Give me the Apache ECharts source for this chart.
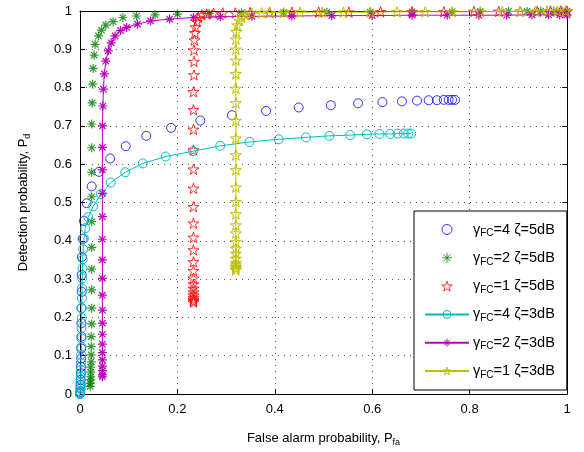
<!DOCTYPE html>
<html><head><meta charset="utf-8">
<script src="https://cdn.jsdelivr.net/npm/echarts@6/dist/echarts.min.js"></script>
<style>html,body{margin:0;padding:0;background:#fff}#c{width:584px;height:452px}</style>
</head><body><div id="c"></div>
<script>
// ---- data ----
const xTicks = [0, 0.2, 0.4, 0.6, 0.8, 1];
const yTicks = [0, 0.1, 0.2, 0.3, 0.4, 0.5, 0.6, 0.7, 0.8, 0.9, 1];
const seriesNames = ['γFC=4 ζ=5dB','γFC=2 ζ=5dB','γFC=1 ζ=5dB','γFC=4 ζ=3dB','γFC=2 ζ=3dB','γFC=1 ζ=3dB'];

const g4z5 = [[0,0],[0.0005,0.005],[0.001,0.014],[0.0012,0.024],[0.0015,0.037],[0.002,0.054],[0.002,0.071],[0.0025,0.093],[0.0025,0.119],[0.003,0.150],[0.003,0.185],[0.003,0.224],[0.0035,0.267],[0.0035,0.311],[0.004,0.358],[0.0055,0.405],[0.008,0.452],[0.0137,0.498],[0.024,0.542],[0.039,0.580],[0.062,0.615],[0.094,0.647],[0.136,0.674],[0.187,0.695],[0.247,0.714],[0.312,0.728],[0.382,0.739],[0.449,0.748],[0.515,0.754],[0.571,0.759],[0.621,0.762],[0.661,0.764],[0.692,0.766],[0.716,0.767],[0.733,0.767],[0.747,0.768],[0.757,0.768],[0.764,0.768],[0.770,0.768]];

const g2z5 = [[0.021,0.020],[0.021,0.028],[0.022,0.037],[0.022,0.045],[0.022,0.057],[0.022,0.070],[0.023,0.084],[0.023,0.102],[0.023,0.124],[0.023,0.150],[0.024,0.183],[0.024,0.224],[0.024,0.272],[0.024,0.326],[0.024,0.383],[0.024,0.450],[0.024,0.515],[0.024,0.579],[0.024,0.643],[0.024,0.705],[0.025,0.760],[0.026,0.809],[0.027,0.850],[0.029,0.885],[0.031,0.913],[0.038,0.935],[0.044,0.950],[0.053,0.963],[0.068,0.972],[0.088,0.983],[0.116,0.987],[0.154,0.990],[0.200,0.992],[0.265,0.994],[0.332,0.995],[0.418,0.996],[0.507,0.997],[0.596,0.997],[0.682,0.998],[0.764,0.998],[0.822,0.999],[0.880,0.999],[0.918,0.999],[0.946,1],[0.973,1],[0.990,1],[1,1]];

const g1z5 = [[0.233,0.240],[0.233,0.243],[0.233,0.247],[0.233,0.252],[0.233,0.258],[0.233,0.266],[0.233,0.276],[0.233,0.287],[0.233,0.302],[0.233,0.322],[0.233,0.345],[0.233,0.376],[0.233,0.409],[0.233,0.446],[0.233,0.489],[0.233,0.537],[0.233,0.587],[0.233,0.637],[0.233,0.691],[0.233,0.742],[0.233,0.789],[0.234,0.833],[0.234,0.868],[0.234,0.898],[0.235,0.924],[0.236,0.943],[0.237,0.958],[0.240,0.972],[0.243,0.983],[0.250,0.990],[0.260,0.992],[0.274,0.994],[0.293,0.995],[0.319,0.995],[0.349,0.996],[0.389,0.996],[0.435,0.997],[0.490,0.997],[0.552,0.997],[0.617,0.998],[0.682,0.998],[0.747,0.998],[0.809,0.999],[0.860,0.999],[0.904,0.999],[0.939,0.999],[0.966,1],[0.987,1],[1,1]];

const g4z3 = [[0,0],[0,0.003],[0.0005,0.007],[0.001,0.018],[0.001,0.030],[0.0015,0.045],[0.002,0.063],[0.002,0.082],[0.0025,0.102],[0.003,0.123],[0.003,0.145],[0.003,0.172],[0.0035,0.198],[0.0035,0.224],[0.004,0.250],[0.004,0.276],[0.0045,0.302],[0.005,0.328],[0.0055,0.352],[0.0065,0.378],[0.008,0.406],[0.011,0.433],[0.017,0.462],[0.027,0.490],[0.043,0.522],[0.063,0.552],[0.093,0.579],[0.129,0.602],[0.176,0.620],[0.232,0.634],[0.288,0.648],[0.348,0.658],[0.408,0.665],[0.464,0.670],[0.512,0.674],[0.555,0.676],[0.589,0.678],[0.615,0.679],[0.637,0.679],[0.652,0.680],[0.665,0.680],[0.674,0.680],[0.680,0.680]];

const g2z3 = [[0.046,0.045],[0.046,0.050],[0.046,0.061],[0.046,0.073],[0.046,0.089],[0.046,0.108],[0.046,0.130],[0.046,0.156],[0.046,0.185],[0.046,0.219],[0.046,0.258],[0.046,0.302],[0.046,0.350],[0.046,0.404],[0.046,0.463],[0.046,0.524],[0.046,0.585],[0.046,0.644],[0.046,0.700],[0.047,0.752],[0.048,0.796],[0.050,0.836],[0.053,0.869],[0.058,0.896],[0.064,0.917],[0.072,0.935],[0.083,0.949],[0.096,0.957],[0.118,0.966],[0.145,0.974],[0.184,0.979],[0.233,0.983],[0.288,0.985],[0.353,0.986],[0.435,0.987],[0.517,0.988],[0.600,0.988],[0.682,0.989],[0.754,0.989],[0.819,0.989],[0.876,0.989],[0.928,0.990],[0.962,0.990],[0.985,0.990],[1,0.990]];

const g1z3 = [[0.320,0.324],[0.320,0.328],[0.320,0.332],[0.320,0.337],[0.320,0.343],[0.320,0.354],[0.320,0.367],[0.320,0.380],[0.320,0.398],[0.320,0.420],[0.320,0.441],[0.320,0.470],[0.320,0.502],[0.320,0.540],[0.320,0.585],[0.320,0.624],[0.320,0.668],[0.320,0.714],[0.320,0.760],[0.320,0.798],[0.320,0.836],[0.320,0.871],[0.320,0.900],[0.320,0.926],[0.321,0.946],[0.323,0.963],[0.327,0.975],[0.332,0.983],[0.339,0.990],[0.353,0.994],[0.373,0.995],[0.390,0.996],[0.418,0.996],[0.452,0.997],[0.497,0.997],[0.541,0.997],[0.596,0.997],[0.651,0.998],[0.709,0.998],[0.764,0.998],[0.822,0.998],[0.867,0.999],[0.904,0.999],[0.935,0.999],[0.959,1],[0.980,1],[0.997,1]];

// ---- style ----
const FONT = '"Liberation Sans", Arial, Helvetica, sans-serif';
const STAR = 'path://M0,-10L2.245,-3.09L9.511,-3.09L3.633,1.18L5.878,8.09L0,3.82L-5.878,8.09L-3.633,1.18L-9.511,-3.09L-2.245,-3.09Z';
const AST = 'path://M0,-10L0,10M-10,0L10,0M-7.07,-7.07L7.07,7.07M-7.07,7.07L7.07,-7.07';
const colors = ['#0000ff','#008000','#ff0000','#00bfbf','#bf00bf','#bfbf00'];
const datasets = [g4z5, g2z5, g1z5, g4z3, g2z3, g1z3];
const kinds = ['scatter','scatter','scatter','line','line','line'];
const symbols = ['circle', AST, STAR, 'circle', AST, STAR];
const sizes = [9, 9, 11, 9, 9, 11];
const HOLLOW = 'rgba(0,0,0,0)';

const series = datasets.map((d, i) => {
  const s = {
    name: seriesNames[i],
    type: kinds[i],
    data: d,
    symbol: symbols[i],
    symbolSize: sizes[i],
    symbolKeepAspect: true,
    clip: false,
    itemStyle: {color: HOLLOW, borderColor: colors[i], borderWidth: symbols[i] === AST ? 1.2 : 1},
    emphasis: {disabled: true},
    animation: false
  };
  if (kinds[i] === 'line') {
    s.showSymbol = true;
    s.showAllSymbol = true;
    s.lineStyle = {color: colors[i], width: 1};
  }
  return s;
});

const tickLabel = {color: '#000', fontSize: 13, fontFamily: FONT};
const gridLine = {show: true, lineStyle: {color: '#555', type: [1, 5], width: 1}};
const rich = {
  a: {fontSize: 13, fontFamily: FONT, color: '#000', lineHeight: 18},
  s: {fontSize: 9, fontFamily: FONT, color: '#000', verticalAlign: 'bottom', lineHeight: 12}
};
const richL = {
  a: {fontSize: 14.5, fontFamily: FONT, color: '#000', lineHeight: 18},
  s: {fontSize: 10, fontFamily: FONT, color: '#000', verticalAlign: 'bottom', lineHeight: 12}
};

const chart = echarts.init(document.getElementById('c'), null, {renderer: 'canvas'});
chart.setOption({
  animation: false,
  backgroundColor: '#fff',
  grid: {left: 80, right: 17, top: 11, bottom: 58, show: false},
  xAxis: [{
    type: 'value', min: 0, max: 1, interval: 0.2, position: 'bottom',
    axisLine: {show: true, onZero: false, lineStyle: {color: '#000', width: 1}},
    axisTick: {show: true, inside: true, length: 5, lineStyle: {color: '#000'}},
    axisLabel: Object.assign({margin: 9, formatter: v => String(+v.toFixed(1))}, tickLabel),
    splitLine: gridLine,
    name: '{a|False alarm probability, P}{s|fa}',
    nameLocation: 'middle', nameGap: 35,
    nameTextStyle: {rich: rich}
  }, {
    type: 'value', min: 0, max: 1, interval: 0.2, position: 'top',
    axisLine: {show: true, onZero: false, lineStyle: {color: '#000', width: 1}},
    axisTick: {show: true, inside: true, length: 5, lineStyle: {color: '#000'}},
    axisLabel: {show: false}, splitLine: {show: false}
  }],
  yAxis: [{
    type: 'value', min: 0, max: 1, interval: 0.1, position: 'left',
    axisLine: {show: true, onZero: false, lineStyle: {color: '#000', width: 1}},
    axisTick: {show: true, inside: true, length: 5, lineStyle: {color: '#000'}},
    axisLabel: Object.assign({margin: 8, formatter: v => String(+v.toFixed(1))}, tickLabel),
    splitLine: gridLine,
    name: '{a|Detection probability, P}{s|d}',
    nameLocation: 'middle', nameGap: 48, nameRotate: 90,
    nameTextStyle: {rich: rich}
  }, {
    type: 'value', min: 0, max: 1, interval: 0.1, position: 'right',
    axisLine: {show: true, onZero: false, lineStyle: {color: '#000', width: 1}},
    axisTick: {show: true, inside: true, length: 5, lineStyle: {color: '#000'}},
    axisLabel: {show: false}, splitLine: {show: false}
  }],
  legend: {
    orient: 'vertical',
    left: 414, top: 211,
    padding: [11, 12, 10, 10],
    backgroundColor: '#fff',
    borderColor: '#000', borderWidth: 1, borderRadius: 0,
    itemWidth: 44, itemHeight: 10, itemGap: 11.8,
    selectedMode: false,
    data: seriesNames.map((n, i) => ({
      name: n,
      itemStyle: {color: HOLLOW, borderColor: colors[i], borderWidth: 1}
    })),
    formatter: n => '{a|γ}{s|FC}{a|' + n.slice(3) + '}',
    textStyle: {rich: richL, padding: [0, 0, 0, -1]}
  },
  series: series
});
</script></body></html>
